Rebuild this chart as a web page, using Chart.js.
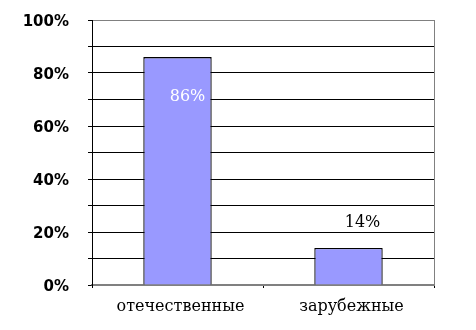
<!DOCTYPE html>
<html><head><meta charset="utf-8">
<script src="https://cdn.jsdelivr.net/npm/chart.js@4/dist/chart.umd.min.js"></script>
<style>html,body{margin:0;padding:0;background:#fff}#wrap{width:476px;height:330px}</style>
</head><body><div id="wrap"><canvas id="c" width="476" height="330"></canvas></div>
<script>
const categories = ["отечественные", "зарубежные"];
const values = [86, 14];
const yTickLabels = ["0%", "20%", "40%", "60%", "80%", "100%"];

const labelPlugin = {
  id: 'valueLabels',
  afterDatasetsDraw(chart) {
    const ctx = chart.ctx;
    const meta = chart.getDatasetMeta(0);
    ctx.save();
    ctx.font = '16px "DejaVu Serif"';
    ctx.textAlign = 'center';
    ctx.textBaseline = 'middle';
    meta.data.forEach((bar, i) => {
      const v = values[i];
      if (v > 50) {
        ctx.fillStyle = '#ffffff';
        ctx.fillText(v + '%', bar.x + 10, bar.y + 40);
      } else {
        ctx.fillStyle = '#000000';
        ctx.fillText(v + '%', bar.x + 14, bar.y - 25);
      }
    });
    ctx.restore();
  },
  beforeDatasetsDraw(chart) {
    const {ctx, chartArea} = chart;
    ctx.save();
    ctx.strokeStyle = '#808080';
    ctx.lineWidth = 1;
    ctx.beginPath();
    ctx.moveTo(Math.round(chartArea.right) + 0.5, chartArea.top);
    ctx.lineTo(Math.round(chartArea.right) + 0.5, chartArea.bottom);
    ctx.stroke();
    ctx.restore();
  }
};

new Chart(document.getElementById('c'), {
  type: 'bar',
  data: {
    labels: categories,
    datasets: [{
      data: values,
      backgroundColor: '#9999FF',
      borderColor: '#000000',
      borderWidth: 1.3,
      barPercentage: 0.4,
      categoryPercentage: 1.0
    }]
  },
  options: {
    responsive: false,
    animation: false,
    layout: { padding: { left: 0, right: 42, top: 20, bottom: 0 } },
    plugins: { legend: { display: false }, tooltip: { enabled: false } },
    scales: {
      x: {
        grid: { display: true, drawOnChartArea: false, drawTicks: true, tickLength: 3, tickColor: '#000000', offset: true },
        border: { display: true, color: '#808080', width: 1.5 },
        ticks: { color: '#000000', font: { family: '"DejaVu Serif"', size: 16 }, padding: 9, labelOffset: 3 },
        afterFit(scale) { scale.height = 45; scale.paddingLeft = 0; scale.paddingRight = 0; }
      },
      y: {
        min: 0, max: 100,
        grid: {
          color: (c) => (c.tick && (c.tick.value === 100 || c.tick.value === 0)) ? '#808080' : '#000000',
          tickColor: '#000000',
          tickLength: 4,
          lineWidth: 1
        },
        border: { display: true, color: '#000000', width: 1 },
        ticks: {
          stepSize: 10,
          color: '#000000',
          font: { family: '"DejaVu Sans"', size: 15, weight: 'bold' },
          padding: 19,
          labelOffset: 2,
          callback: (v) => (v % 20 === 0) ? yTickLabels[v / 20] : ''
        },
        afterFit(scale) { scale.width = 92; scale.paddingTop = 0; scale.paddingBottom = 0; }
      }
    }
  },
  plugins: [labelPlugin]
});
</script></body></html>
